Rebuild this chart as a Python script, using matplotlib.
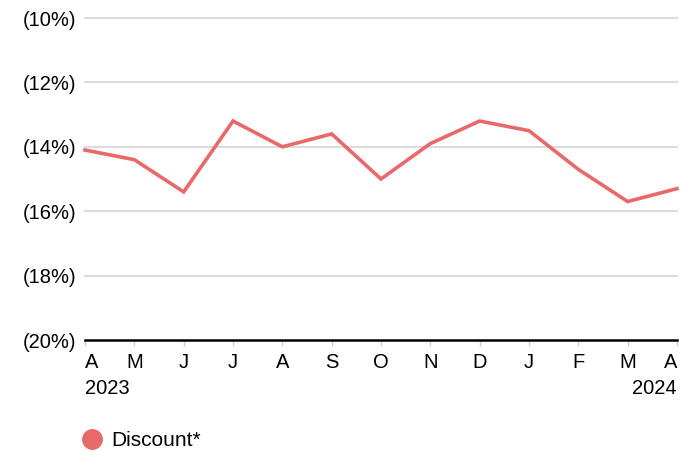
import matplotlib
matplotlib.use("Agg")
import matplotlib.pyplot as plt
from matplotlib.lines import Line2D

months = ["A", "M", "J", "J", "A", "S", "O", "N", "D", "J", "F", "M", "A"]
years = {0: "2023", 12: "2024"}
discount = [-14.1, -14.4, -15.4, -13.2, -14.0, -13.6, -15.0, -13.9, -13.2, -13.5, -14.7, -15.7, -15.3]
yticks = [-20, -18, -16, -14, -12, -10]

plt.rcParams['font.family'] = ['Liberation Sans', 'DejaVu Sans']
color = "#E8696A"
fs = 14.5

fig = plt.figure(figsize=(6.92, 4.51), dpi=100)
ax = fig.add_axes([85/692, 1 - 340/451, (677 - 85)/692, (340 - 18)/451])

x = list(range(len(months)))
ax.plot(x, discount, color=color, lw=2.6, solid_joinstyle='miter', zorder=3, clip_on=False)

ax.set_xlim(0, len(months) - 1)
ax.set_ylim(-20, -10)
ax.set_yticks(yticks)
ax.set_yticklabels([f"({abs(v)}%)" for v in yticks], fontsize=fs)
ax.tick_params(axis='y', length=0, pad=6)
for v in yticks[1:]:
    ax.axhline(v, color="#dcdcdc", lw=1.5, zorder=1, clip_on=False)

ax.set_xticks(x)
ax.set_xticklabels(months, fontsize=fs)
ax.tick_params(axis='x', length=4, width=1, color="#cccccc", pad=5)
labels = ax.get_xticklabels()
labels[0].set_ha('left')
labels[-1].set_ha('right')

for spine in ["top", "right", "left"]:
    ax.spines[spine].set_visible(False)
ax.spines["bottom"].set_linewidth(1.8)
ax.spines["bottom"].set_color("black")

for xi, yr in years.items():
    ha = 'left' if xi == 0 else 'right'
    ax.annotate(yr, xy=(xi, 0), xycoords=('data', 'axes fraction'),
                xytext=(0, -28), textcoords='offset points', ha=ha, va='top', fontsize=fs)

handle = Line2D([], [], marker='o', color='none', markerfacecolor=color, markeredgecolor=color, markersize=14)
fig.legend([handle], ["Discount*"], loc='center left', bbox_to_anchor=(71/692, 1 - 441/451),
           frameon=False, fontsize=fs + 0.5, handletextpad=0.45, borderpad=0, handlelength=1.0)

fig.savefig("out.png", dpi=100)
